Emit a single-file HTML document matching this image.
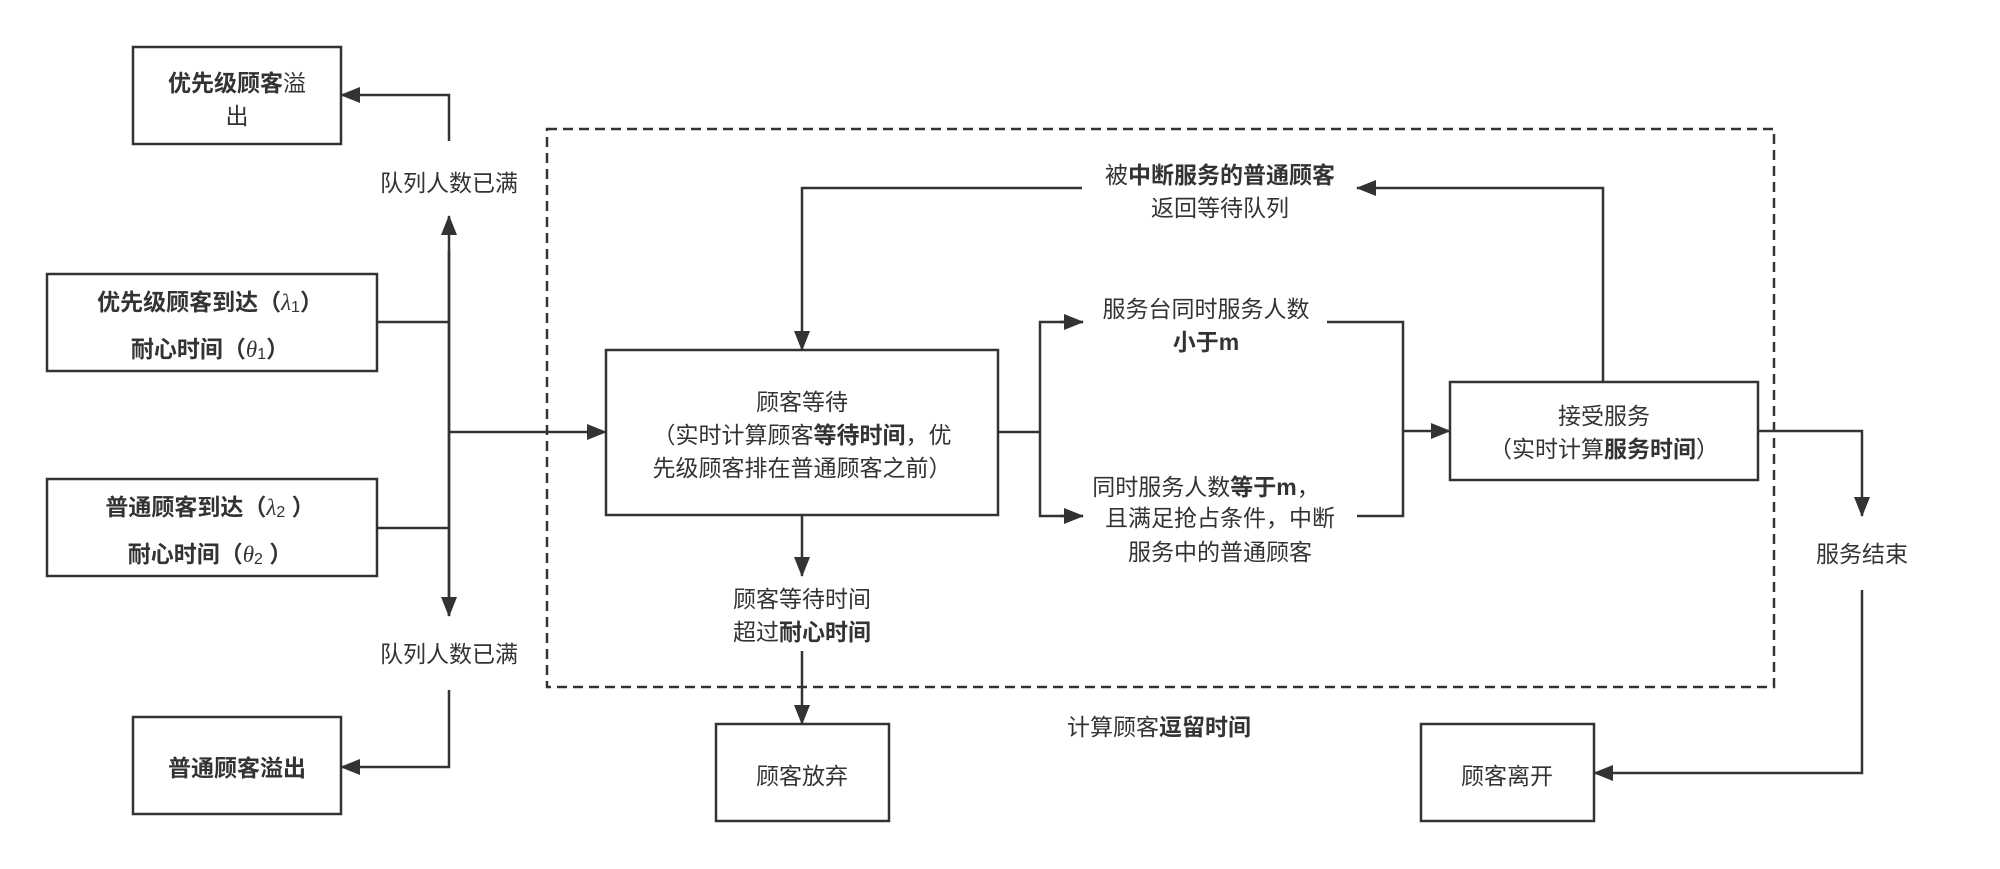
<!DOCTYPE html>
<html><head><meta charset="utf-8"><style>
html,body{margin:0;padding:0;background:#fff;}
svg{display:block;}
text{font-family:"Liberation Sans","Noto Sans CJK SC",sans-serif;font-size:23px;fill:#333;text-anchor:middle;dominant-baseline:central;}
.b{font-weight:bold;}
.l{stroke:#333;stroke-width:2.5;fill:none;}
.r{stroke:#333;stroke-width:2.5;fill:#fff;}
.i{font-family:"Liberation Serif","DejaVu Serif",serif;font-style:italic;}
</style></head><body>
<svg width="2000" height="869" viewBox="0 0 2000 869" xmlns="http://www.w3.org/2000/svg">
<defs><marker id="a" markerWidth="10" markerHeight="10" refX="9" refY="5" orient="auto" markerUnits="userSpaceOnUse" viewBox="0 0 10 10"><path d="M0,0 L10,5 L0,10 z" fill="#333"/></marker>
<marker id="m" markerWidth="20" markerHeight="16" refX="19" refY="8" orient="auto" markerUnits="userSpaceOnUse" viewBox="0 0 20 16"><path d="M0,0 L20,8 L0,16 z" fill="#333"/></marker></defs>

<rect x="547" y="129" width="1227" height="558" fill="none" stroke="#333" stroke-width="2.5" stroke-dasharray="10,6"/>

<!-- left boxes -->
<rect class="r" x="133" y="47" width="208" height="97"/>
<text x="237" y="83"><tspan class="b">优先级顾客</tspan>溢</text>
<text x="237" y="116">出</text>
<rect class="r" x="47" y="274" width="330" height="97"/>
<text x="210" y="302" class="b">优先级顾客到达（<tspan class="i" font-weight="normal">λ</tspan><tspan font-weight="normal" font-size="16" dy="5">1</tspan><tspan dy="-5">）</tspan></text>
<text x="210" y="349" class="b">耐心时间（<tspan class="i" font-weight="normal">θ</tspan><tspan font-weight="normal" font-size="16" dy="5">1</tspan><tspan dy="-5">）</tspan></text>
<rect class="r" x="47" y="479" width="330" height="97"/>
<text x="210" y="507" class="b">普通顾客到达（<tspan class="i" font-weight="normal">λ</tspan><tspan font-weight="normal" font-size="16" dy="5">2</tspan><tspan dy="-5"> ）</tspan></text>
<text x="210" y="554" class="b">耐心时间（<tspan class="i" font-weight="normal">θ</tspan><tspan font-weight="normal" font-size="16" dy="5">2</tspan><tspan dy="-5"> ）</tspan></text>
<rect class="r" x="133" y="717" width="208" height="97"/>
<text x="237" y="768" class="b">普通顾客溢出</text>

<!-- left connectors -->
<line class="l" x1="449" y1="616" x2="449" y2="216" marker-end="url(#m)"/>
<line class="l" x1="449" y1="250" x2="449" y2="616" marker-end="url(#m)"/>
<line class="l" x1="377" y1="322" x2="449" y2="322"/>
<line class="l" x1="377" y1="528" x2="449" y2="528"/>
<line class="l" x1="449" y1="432" x2="606" y2="432" marker-end="url(#m)"/>
<polyline class="l" points="449,141 449,95 341,95" marker-end="url(#m)"/>
<polyline class="l" points="449,690 449,767 341,767" marker-end="url(#m)"/>
<text x="449" y="183">队列人数已满</text>
<text x="449" y="654">队列人数已满</text>

<!-- waiting box -->
<rect class="r" x="606" y="350" width="392" height="165"/>
<text x="802" y="402">顾客等待</text>
<text x="802" y="435">（实时计算顾客<tspan class="b">等待时间</tspan>，优</text>
<text x="802" y="468">先级顾客排在普通顾客之前）</text>

<line class="l" x1="802" y1="515" x2="802" y2="576" marker-end="url(#m)"/>
<text x="802" y="599">顾客等待时间</text>
<text x="802" y="632">超过<tspan class="b">耐心时间</tspan></text>
<line class="l" x1="802" y1="651" x2="802" y2="724" marker-end="url(#m)"/>
<rect class="r" x="716" y="724" width="173" height="97"/>
<text x="802" y="776">顾客放弃</text>

<!-- return loop -->
<polyline class="l" points="1082,188 802,188 802,350" marker-end="url(#m)"/>
<polyline class="l" points="1603,382 1603,188 1357,188" marker-end="url(#m)"/>
<text x="1220" y="175">被<tspan class="b">中断服务的普通顾客</tspan></text>
<text x="1220" y="208">返回等待队列</text>

<!-- branches -->
<line class="l" x1="998" y1="432" x2="1040" y2="432"/>
<polyline class="l" points="1083,322 1040,322 1040,516 1083,516" />
<line class="l" x1="1060" y1="322" x2="1083" y2="322" marker-end="url(#m)"/>
<line class="l" x1="1060" y1="516" x2="1083" y2="516" marker-end="url(#m)"/>
<text x="1206" y="309">服务台同时服务人数</text>
<text x="1206" y="342" class="b">小于m</text>
<text x="1206" y="487">同时服务人数<tspan class="b">等于m</tspan>，</text>
<text x="1220" y="518">且满足抢占条件，中断</text>
<text x="1220" y="552">服务中的普通顾客</text>
<polyline class="l" points="1327,322 1403,322 1403,516 1357,516"/>
<line class="l" x1="1403" y1="431" x2="1450" y2="431" marker-end="url(#m)"/>

<!-- service -->
<rect class="r" x="1450" y="382" width="308" height="98"/>
<text x="1604" y="416">接受服务</text>
<text x="1604" y="449">（实时计算<tspan class="b">服务时间</tspan>）</text>
<polyline class="l" points="1758,431 1862,431 1862,516" marker-end="url(#m)"/>
<text x="1862" y="554">服务结束</text>
<polyline class="l" points="1862,590 1862,773 1594,773" marker-end="url(#m)"/>
<rect class="r" x="1421" y="724" width="173" height="97"/>
<text x="1507" y="776">顾客离开</text>

<text x="1159" y="727">计算顾客<tspan class="b">逗留时间</tspan></text>
</svg>
</body></html>
